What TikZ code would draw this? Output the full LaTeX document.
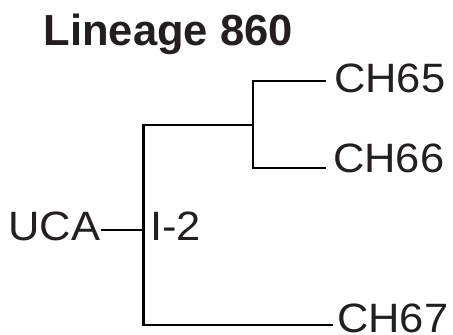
\documentclass[tikz,border=0pt]{standalone}
\usepackage{fontspec}
\setmainfont{Liberation Sans}
\newfontfamily\leaffont[FakeStretch=1.06]{Liberation Sans}
\definecolor{txtgray}{HTML}{231F20}
\tikzset{
	leaf/.style={inner sep=0pt, anchor=base west, text=txtgray,
		font=\leaffont\fontsize{41}{41}\selectfont},
	branch/.style={line width=2.6pt, black},
}

\begin{document}
\begin{tikzpicture}[x=1pt, y=-1pt]
	\useasboundingbox (0,0) rectangle (453,335);
	\node[anchor=base west, inner sep=0pt, text=txtgray,
		font=\bfseries\fontsize{43.5}{43.5}\selectfont] (title) at (43.5,45) {Lineage 860};
	\coordinate (root) at (143.5,230); \coordinate (c2) at (253,125);
	\coordinate (t65) at (326,81); \coordinate (t66) at (326,168);
	\coordinate (t67) at (333,325);
	\node[leaf, anchor=base east] (uca) at (100.5,240.7) {UCA};
	\node[leaf] (i2) at (150,240.7) {I-2};
	\node[leaf] (ch65) at (334,92.5) {CH65};
	\node[leaf] (ch66) at (333,172.5) {CH66};
	\node[leaf] (ch67) at (337,332) {CH67};
	\draw[branch] (uca.east |- root) -- (root);
	\draw[branch] (t65) -| (c2) |- (t66);
	\draw[branch] (c2) -| (root) |- (t67);
\end{tikzpicture}
\end{document}
